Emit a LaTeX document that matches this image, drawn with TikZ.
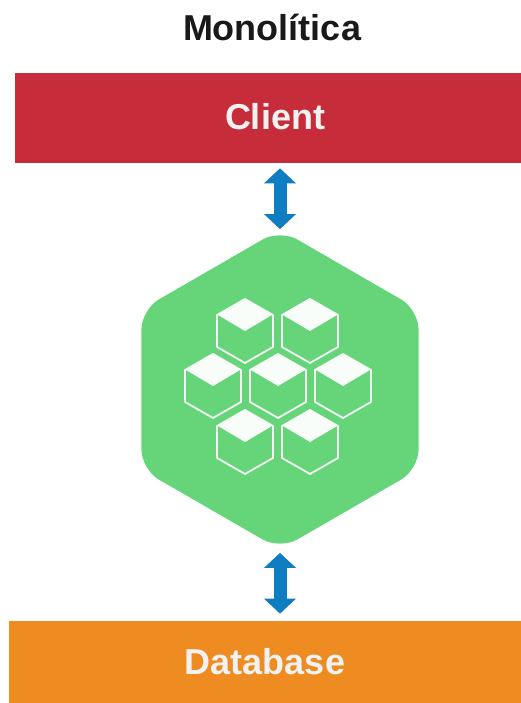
\documentclass[tikz,border=0pt]{standalone}
\usepackage{fontspec}
\setmainfont{Liberation Sans}
\usetikzlibrary{arrows.meta,arrows}
\usetikzlibrary{shapes.geometric}
\usetikzlibrary{calc}
\definecolor{clientred}{HTML}{C62C3A}
\definecolor{dborange}{HTML}{EE8C22}
\definecolor{appgreen}{HTML}{66D57A}
\definecolor{arrowblue}{HTML}{0F7DC2}

\begin{document}
\begin{tikzpicture}[x=1pt,y=1pt,semithick]
 \tikzstyle{title node}=[font=\fontsize{36}{40}\selectfont\bfseries,text=black!90]
 \tikzstyle{box node}=[rectangle,font=\fontsize{36}{40}\selectfont\bfseries,text=white!95!black,inner sep=0]
 \tikzstyle{app node}=[regular polygon,regular polygon sides=6,shape border rotate=30,fill=appgreen,inner sep=0,minimum size=320pt,rounded corners=20pt]
 \tikzset{
 	link arrow/.style={{Triangle[length=15pt,width=31pt]}-{Triangle[length=15pt,width=31pt]},draw=arrowblue,line width=13pt},
 	cube edge/.style={draw=white!92!appgreen,line width=1.8pt,line join=round},
 	cube top/.style={fill=white!96!appgreen,draw=none},
 	cube/.pic={
 		\path[cube edge] (0,32) -- (28,16) -- (28,-16) -- (0,-32) -- (-28,-16) -- (-28,16) -- cycle;
 		\path[cube top] (0,32) -- (27,16) -- (0,0) -- (-27,16) -- cycle;
 	}
 }

 \useasboundingbox (0,0) rectangle (521,703);

 \node[title node] (title) at (272,676) {Monolítica};
 \node[box node,fill=clientred,minimum width=506pt,minimum height=90pt] (client) at (268,585) {\hspace{14pt}\raisebox{3pt}{Client}};
 \node[box node,fill=dborange,minimum width=512pt,minimum height=82pt] (database) at (265,41) {Database};
 \node[app node] (app) at (280,313.5) {};

 \foreach \x/\y in {245/372,310/372,213/317,278/317,343/317,245/261,310/261}
 	\pic at (\x,\y) {cube};

 \draw[link arrow,shorten <=5pt] (app.north |- client.south) -- (app.north);
 \draw[link arrow,shorten <=3pt,shorten >=7pt] (app.south) -- (app.south |- database.north);
\end{tikzpicture}
\end{document}
